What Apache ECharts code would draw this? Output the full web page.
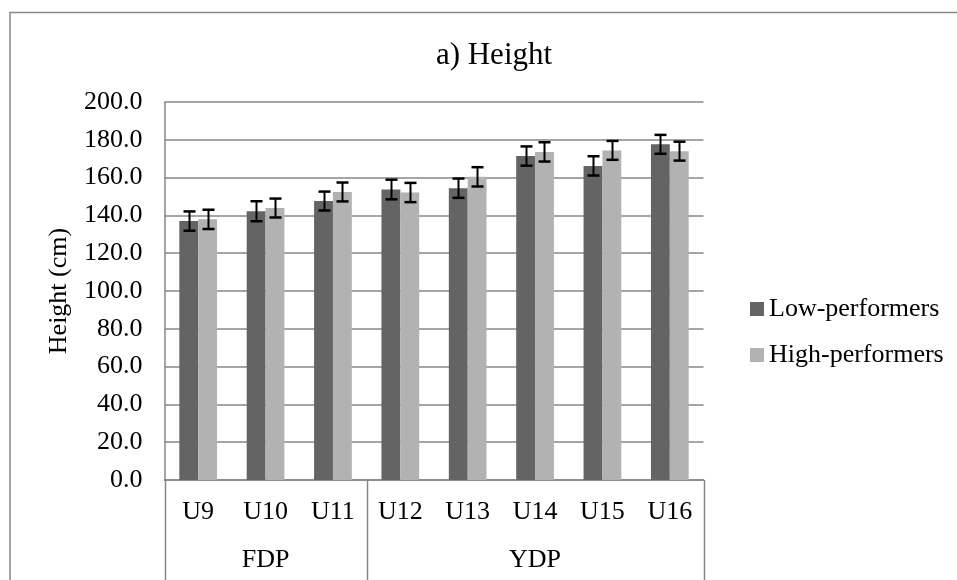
<!DOCTYPE html>
<html>
<head>
<meta charset="utf-8">
<script src="https://cdn.jsdelivr.net/npm/echarts@6/dist/echarts.min.js"></script>
<style>
html,body{margin:0;padding:0;background:#fff;}
#chart{width:957px;height:580px;}
</style>
</head>
<body>
<div id="chart"></div>
<script>
const categories = ['U9', 'U10', 'U11', 'U12', 'U13', 'U14', 'U15', 'U16'];
const groupLabels = ['', 'FDP', '', '', '', 'YDP', '', ''];
const groupBoundaries = [0, 3, 8];
const lowPerformers = [137.0, 142.2, 147.6, 153.7, 154.4, 171.4, 166.2, 177.6];
const highPerformers = [137.9, 143.9, 152.4, 152.1, 160.4, 173.6, 174.4, 174.0];
const lowSD = [5.1, 5.3, 5.0, 5.2, 5.1, 5.1, 5.1, 5.0];
const highSD = [5.1, 5.0, 5.0, 5.1, 5.1, 5.1, 5.0, 5.0];
const seriesNames = ['Low-performers', 'High-performers'];

const FONT = 'Liberation Serif';
const GRID = '#878787';
const DARK = '#646464';
const LIGHT = '#b2b2b2';
const CAT_GAP = 0.44;

const chart = echarts.init(document.getElementById('chart'), null, {renderer: 'canvas'});

function errRender(which, sds) {
  return function (params, api) {
    const idx = api.value(0);
    const val = api.value(1);
    const sd = sds[idx];
    const band = api.size([1, 0])[0];
    const barW = band * (1 - CAT_GAP) / 2;
    const off = which === 0 ? -barW / 2 : barW / 2;
    const top = api.coord([idx, val + sd]);
    const bot = api.coord([idx, val - sd]);
    const x = Math.round(top[0] + off) + 0.5;
    const cap = 6;
    const st = {stroke: '#000', lineWidth: 2};
    return {
      type: 'group',
      children: [
        {type: 'line', shape: {x1: x, y1: top[1], x2: x, y2: bot[1]}, style: st},
        {type: 'line', shape: {x1: x - cap, y1: top[1], x2: x + cap, y2: top[1]}, style: {stroke: '#000', lineWidth: 2.5}},
        {type: 'line', shape: {x1: x - cap, y1: bot[1], x2: x + cap, y2: bot[1]}, style: {stroke: '#000', lineWidth: 2.5}}
      ]
    };
  };
}

const option = {
  animation: false,
  backgroundColor: '#fff',
  textStyle: {fontFamily: FONT, color: '#000'},
  title: {
    text: 'a) Height',
    left: 489, top: 35, textAlign: 'center',
    textStyle: {fontFamily: FONT, fontSize: 31, fontWeight: 'normal', color: '#000'}
  },
  legend: {
    data: seriesNames,
    orient: 'vertical',
    left: 745, top: 291,
    itemWidth: 14, itemHeight: 14, itemGap: 20,
    icon: 'rect',
    textStyle: {fontFamily: FONT, fontSize: 26, color: '#000'}
  },
  grid: {left: 164.5, right: 253.5, top: 102, bottom: 100, containLabel: false},
  xAxis: [
    {
      type: 'category', data: categories, position: 'bottom',
      axisLine: {show: true, lineStyle: {color: GRID, width: 1.5}},
      axisTick: {show: false},
      axisLabel: {fontFamily: FONT, fontSize: 26, color: '#000', margin: 19, interval: 0}
    },
    {
      type: 'category', data: groupLabels, position: 'bottom',
      axisLine: {show: false}, axisTick: {show: false},
      axisLabel: {fontFamily: FONT, fontSize: 26, color: '#000', margin: 67, interval: 0}
    }
  ],
  yAxis: {
    type: 'value', min: 0, max: 200, interval: 20,
    name: 'Height (cm)', nameLocation: 'middle', nameGap: 92, nameRotate: 90,
    nameTextStyle: {fontFamily: FONT, fontSize: 26, color: '#000'},
    axisLine: {show: true, lineStyle: {color: GRID, width: 1.5}},
    axisTick: {show: false},
    axisLabel: {fontFamily: FONT, fontSize: 26, color: '#000', margin: 22,
      formatter: v => v.toFixed(1)},
    splitLine: {show: true, lineStyle: {color: GRID, width: 1.5}}
  },
  series: [
    {name: seriesNames[0], type: 'bar', data: lowPerformers, itemStyle: {color: DARK},
      barGap: '0%', barCategoryGap: (CAT_GAP * 100) + '%'},
    {name: seriesNames[1], type: 'bar', data: highPerformers, itemStyle: {color: LIGHT},
      barGap: '0%', barCategoryGap: (CAT_GAP * 100) + '%'},
    {type: 'custom', name: 'errLow', renderItem: errRender(0, lowSD), z: 10,
      data: lowPerformers.map((v, i) => [i, v]), encode: {x: 0, y: 1}},
    {type: 'custom', name: 'errHigh', renderItem: errRender(1, highSD), z: 10,
      data: highPerformers.map((v, i) => [i, v]), encode: {x: 0, y: 1}}
  ]
};
chart.setOption(option);

// group separator lines and outer border, positioned from the axes
const c0 = chart.convertToPixel({xAxisIndex: 0}, 0);
const c1 = chart.convertToPixel({xAxisIndex: 0}, 1);
const band = c1 - c0;
const yBase = chart.convertToPixel({yAxisIndex: 0}, 0);
const graphics = groupBoundaries.map(b => {
  const x = Math.round(c0 - band / 2 + b * band) + 0.5;
  return {type: 'line', shape: {x1: x, y1: yBase, x2: x, y2: 585},
    style: {stroke: GRID, lineWidth: 1.5}, silent: true};
});
graphics.push({type: 'rect', shape: {x: 10, y: 12.5, width: 1200, height: 1200},
  style: {fill: 'none', stroke: GRID, lineWidth: 1.5}, silent: true});
chart.setOption({graphic: graphics});
</script>
</body>
</html>
